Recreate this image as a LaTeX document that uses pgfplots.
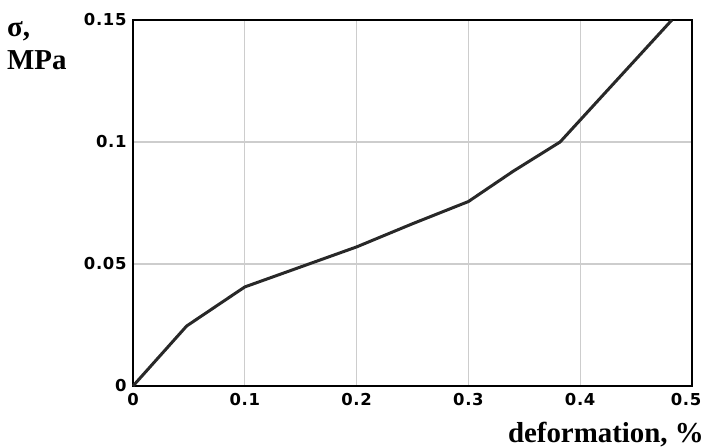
\documentclass[border=0pt]{standalone}
\usepackage{fontspec}
\setmainfont{Liberation Serif}
\newfontfamily\tickfont{DejaVu Sans}[LetterSpace=4]
\usepackage{pgfplots}
\pgfplotsset{compat=1.18}
\definecolor{gridgray}{RGB}{205,205,205}
\definecolor{curve}{RGB}{40,40,40}
\begin{document}
\begin{tikzpicture}
\useasboundingbox (-133bp,-62bp) rectangle (572bp,386bp);
\begin{axis}[
  at={(0,0)}, anchor=origin,
  scale only axis,
  width=559bp, height=366bp,
  xmin=0, xmax=0.5, ymin=0, ymax=0.15,
  xtick={0,0.1,0.2,0.3,0.4,0.5},
  ytick={0,0.05,0.1,0.15},
  xticklabels={0,0.1,0.2,0.3,0.4,\hspace*{-12bp}0.5},
  yticklabels={0,0.05,0.1,0.15},
  grid=major,
  major grid style={gridgray, line width=1.2bp},
  major tick length=0pt,
  axis line style={black, line width=1.8bp},
  tick label style={font=\tickfont\bfseries\fontsize{16.5}{18}\selectfont},
  xticklabel style={yshift=-4bp},
  yticklabel style={xshift=-3bp},
  /pgf/number format/assume math mode=true,
  clip=false,
]
\addplot[curve, line width=3bp] coordinates {
(0,0) (0.048,0.0246) (0.1,0.0406) (0.15,0.0488) (0.2,0.057) (0.25,0.0665)
(0.3,0.0756) (0.34,0.088) (0.382,0.1) (0.4,0.109) (0.44,0.129) (0.482,0.15)
};
\end{axis}
\node[anchor=base west, inner sep=0pt, font=\bfseries\fontsize{29}{30}\selectfont] at (-126bp,349bp) {σ,};
\node[anchor=base west, inner sep=0pt, font=\bfseries\fontsize{29}{30}\selectfont] at (-126bp,316bp) {MPa};
\node[anchor=base east, inner sep=0pt, font=\bfseries\fontsize{29}{30}\selectfont] at (571bp,-56bp) {deformation, \%};
\end{tikzpicture}
\end{document}
